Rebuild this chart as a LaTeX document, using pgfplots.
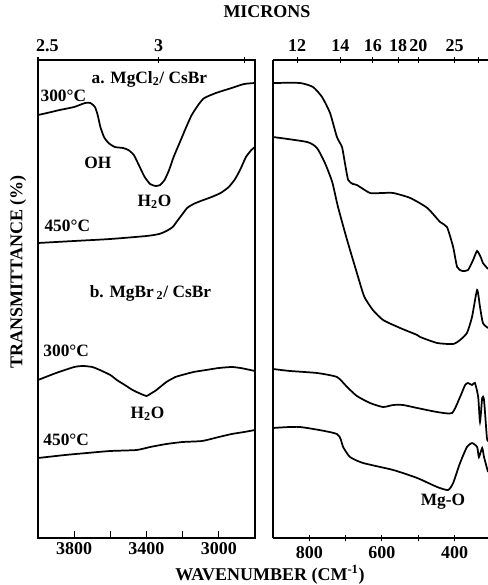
\documentclass[border=0pt]{standalone}
\usepackage{fontspec}
\setmainfont{Liberation Serif}
\usepackage{pgfplots}
\pgfplotsset{compat=1.18}

\newcommand{\lab}{\fontsize{13.5}{15}\selectfont\bfseries}
\newcommand{\ann}{\fontsize{13}{15}\selectfont\bfseries}

\pgfplotsset{
  ir/.style={
    scale only axis, height=358.5pt, anchor=south west,
    ymin=47, ymax=525, ytick=\empty, x dir=reverse,
    tick align=inside, major tick length=5pt, minor tick length=5pt,
    tick style={black, line width=0.8pt},
    axis line style={black, line width=1pt},
    ticklabel style={font=\lab},
    cycle list={black,line width=1.3pt,no marks,smooth,tension=0.35\\},
  },
  plain lines/.style={axis line style={-}, x axis line style={-}, y axis line style={-}},
}

\begin{document}
\begin{tikzpicture}
\useasboundingbox (0,0) rectangle (366pt,438.75pt);

% ---- left panel: 4000-2800 cm-1 ----
\begin{axis}[ir, at={(28.5pt,35.25pt)}, width=162.75pt,
    xmin=2800, xmax=4000, xtick pos=left,
    xtick={3000,3400,3800}, xticklabels={3000,3400,3800},
    minor xtick={3200,3600}]
% a. MgCl2 300 C
\addplot coordinates {(4000,470)(3950,472)(3880,475)(3800,478)(3740,482)(3710,482)(3685,478)
  (3670,470)(3655,458)(3635,448)(3610,442)(3575,438)(3530,437)(3500,435)(3470,430)(3440,419)
  (3410,408)(3380,401)(3350,399)(3325,400)(3300,405)(3275,415)(3250,428)(3215,443)(3180,458)
  (3150,470)(3110,481)(3080,487)(3016,492)(2929,497)(2860,501)(2800,502)};
% a. MgCl2 450 C
\addplot coordinates {(4000,342)(3800,344)(3600,346)(3400,349)(3330,351)(3290,354)(3255,358)
  (3230,364)(3205,370)(3175,377)(3140,381)(3100,384)(3040,388)(2990,392)(2945,398)(2910,406)
  (2880,416)(2850,428)(2820,435)(2800,438)};
% b. MgBr2 300 C
\addplot coordinates {(4000,205)(3900,212)(3800,218)(3750,219)(3700,218)(3658,215)(3600,210)
  (3564,205)(3520,200)(3477,195)(3430,191)(3400,189)(3380,191)(3345,195)(3290,203)(3240,208)
  (3203,210)(3140,213)(3071,215)(3000,217)(2929,218)(2880,217)(2852,216)(2800,214)};
% b. MgBr2 450 C
\addplot coordinates {(4000,127)(3850,130)(3729,132)(3600,134)(3455,135)(3380,138)(3290,141)
  (3200,143)(3093,144)(3000,148)(2929,151)(2860,153)(2800,155)};
\node[font=\ann] at (axis cs:3860,489) {300°C};
\node[font=\ann] at (axis cs:3384,506) {a. MgCl\textsubscript{2}/ CsBr};
\node[font=\ann] at (axis cs:3669,422) {OH};
\node[font=\ann] at (axis cs:3356,383) {H\textsubscript{2}O};
\node[font=\ann] at (axis cs:3838,359) {450°C};
\node[font=\ann] at (axis cs:3378,292) {b. MgBr\,\textsubscript{2}/ CsBr};
\node[font=\ann] at (axis cs:3844,234) {300°C};
\node[font=\ann] at (axis cs:3395,171) {H\textsubscript{2}O};
\node[font=\ann] at (axis cs:3844,145) {450°C};
\end{axis}
% left panel, micron scale on top
\begin{axis}[ir, at={(28.5pt,35.25pt)}, width=162.75pt,
    xmin=2800, xmax=4000, axis x line=top, axis y line=none, plain lines,
    xtick={4000,3333.33,2857.14}, xticklabels={{\hspace*{14pt}2.5},3,{}}]
\end{axis}

% ---- right panel: 900-308 cm-1 ----
\begin{axis}[ir, at={(204.75pt,35.25pt)}, width=161.25pt,
    xmin=308, xmax=900, axis x line=bottom, axis y line=left, plain lines,
    xtick={400,600,800}, xticklabels={400,600,800},
    minor xtick={500,700}]
% a. MgCl2 300 C
\addplot coordinates {(900,502)(826,502)(790,498)(765,488)(743,472)(724,448)(710,438)(702,422)
  (693,405)(680,401)(669,400)(633,392)(600,392)(569,392)(522,387)(475,377)(440,363)(421,358)
  (404,338)(393,318)(379,314)(363,315)(349,325)(338,334)(327,327)(322,322)(308,316)};
% a. MgCl2 450 C
\addplot coordinates {(900,448)(806,443)(779,437)(757,422)(737,403)(721,378)(696,345)(669,312)
  (655,295)(647,287)(625,275)(597,265)(550,257)(503,250)(495,248)(448,242)(404,241)(385,245)
  (366,252)(352,268)(338,295)(330,278)(322,262)(308,257)};
% b. MgBr2 300 C
\addplot coordinates {(900,216)(853,214)(779,212)(724,208)(696,198)(669,189)(633,182)(597,178)
  (569,180)(542,180)(503,177)(448,173)(407,172)(385,188)(371,200)(363,202)(352,200)(344,202)
  (335,188)(330,163)(324,187)(319,185)(311,147)(308,145)};
% b. MgBr2 450 C
\addplot coordinates {(900,157)(826,158)(724,151)(707,138)(688,128)(652,122)(569,115)(503,107)
  (448,98)(418,95)(404,102)(385,122)(366,138)(352,142)(338,138)(333,128)(324,137)(319,128)
  (308,113)};
\node[font=\ann] at (axis cs:432,83) {Mg-O};
\end{axis}
% right panel, micron scale on top
\begin{axis}[ir, at={(204.75pt,35.25pt)}, width=161.25pt,
    xmin=308, xmax=900, axis x line=top, axis y line=none, plain lines,
    xtick={833.33,714.29,625,555.56,500,400,333.33},
    xticklabels={12,14,16,18,20,25,{}}]
\end{axis}

\node[font=\lab] at (200.25pt,429.75pt) {MICRONS};
\node[font=\lab] at (202.5pt,7.5pt) {WAVENUMBER (CM\textsuperscript{-1})};
\node[font=\lab, rotate=90] at (13.5pt,234.75pt) {TRANSMITTANCE (\%)};
\end{tikzpicture}
\end{document}
